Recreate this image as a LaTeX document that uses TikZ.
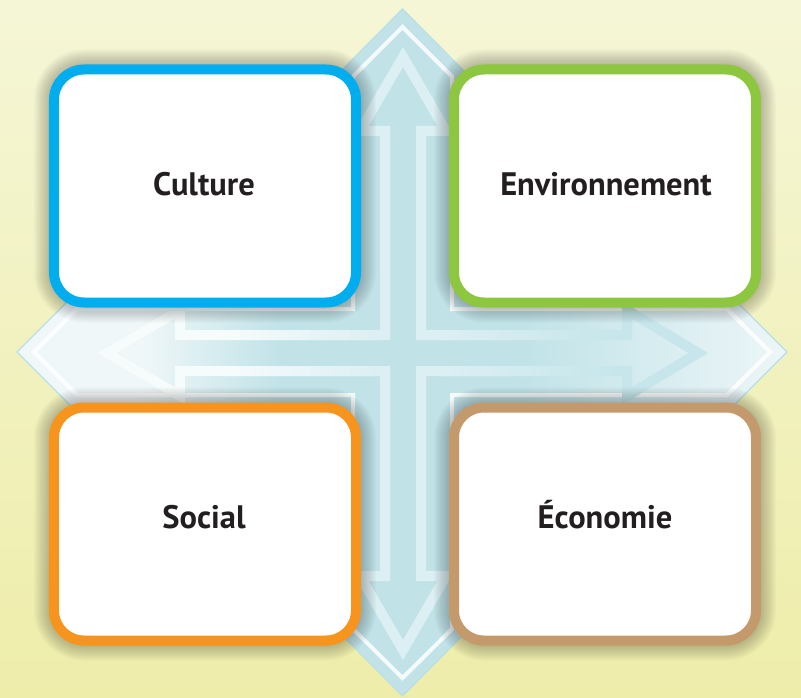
\documentclass[tikz,border=0pt]{standalone}
\usepackage{fontspec}
\setmainfont{PT Sans}
\definecolor{bgtop}{HTML}{F5F6D6}
\definecolor{bgbot}{HTML}{EEEDAA}
\definecolor{crossblue}{HTML}{C1E3E8}
\definecolor{crosspale}{HTML}{F0F7F9}
\definecolor{crossedge}{HTML}{B8DFE5}
\definecolor{arrowline}{HTML}{DCEFF3}
\definecolor{arrowpale}{HTML}{F6FBFC}
\definecolor{arrowblue}{HTML}{C6E6EB}
\definecolor{cblue}{HTML}{00AEEF}
\definecolor{cgreen}{HTML}{8DC63F}
\definecolor{corange}{HTML}{F7941D}
\definecolor{ctan}{HTML}{C49A6C}
\definecolor{txt}{HTML}{231F20}
\pgfdeclarehorizontalshading{harmshade}{100bp}{color(0bp)=(crosspale); color(33bp)=(crosspale); color(42bp)=(crossblue); color(58bp)=(crossblue); color(76bp)=(crosspale); color(100bp)=(crosspale)}
\newcommand\glowbox[4]{%
  \foreach \k in {1,...,10}{%
    \pgfmathsetmacro\glw{10+3*\k}%
    \draw[black, opacity=0.022, line width=\glw bp, rounded corners=30bp] (#1,#2) rectangle (#3,#4);}}
\newcommand\fourarrow{(403,57) -- (446,131) -- (421,131) -- (421,335) -- (627,335) -- (627,310) -- (698,353)
  -- (627,396) -- (627,371) -- (421,371) -- (421,576) -- (446,576) -- (403,650)
  -- (360,576) -- (385,576) -- (385,371) -- (180,371) -- (180,396) -- (107,353)
  -- (180,310) -- (180,335) -- (385,335) -- (385,131) -- (360,131) -- cycle}
\tikzset{
  qbox/.style={draw=#1, line width=10bp, fill=white, rounded corners=30bp,
    minimum width=302bp, minimum height=233bp, inner sep=0pt, outer sep=0pt},
  lbl/.style={font=\bfseries\fontsize{32.5bp}{36bp}\selectfont, text=txt, anchor=base, inner sep=0pt},
  arrowstroke/.style={draw=#1, line width=10bp, line join=miter}
}
\begin{document}
\begin{tikzpicture}[x=1bp,y=-1bp]
\useasboundingbox (0,0) rectangle (801,698);
% background
\shade[top color=bgtop, bottom color=bgbot] (0,0) rectangle (801,698);
% big cross with pointed ends
\fill[crossblue] (402.5,9) -- (464,71) -- (464,297) -- (732,297) -- (787,352) -- (732,407)
  -- (464,407) -- (464,634) -- (402.5,696) -- (341,634) -- (341,407) -- (72,407)
  -- (17,352) -- (72,297) -- (341,297) -- (341,71) -- cycle;
\shade[shading=harmshade]
  (17,352) -- (72,297) -- (732,297) -- (787,352) -- (732,407) -- (72,407) -- cycle;
\draw[crossedge, line width=1.2bp, line join=miter] (402.5,9) -- (464,71) -- (464,297) -- (732,297) -- (787,352) -- (732,407)
  -- (464,407) -- (464,634) -- (402.5,696) -- (341,634) -- (341,407) -- (72,407)
  -- (17,352) -- (72,297) -- (341,297) -- (341,71) -- cycle;
\draw[white, opacity=0.85, line width=4bp] (402.5,27) -- (452,76.5) -- (452,309) -- (727,309) -- (770,352) -- (727,395)
  -- (452,395) -- (452,629) -- (402.5,678) -- (353,629) -- (353,395) -- (77,395)
  -- (34,352) -- (77,309) -- (353,309) -- (353,76.5) -- cycle;
% inner outlined four-way arrow
\path[arrowstroke=arrowline] \fourarrow;
% left part: stroke fades to near white
\begin{scope}
  \clip (0,0) rectangle (230,698);
  \path[arrowstroke=arrowpale] \fourarrow;
\end{scope}
\foreach \i in {0,...,14}{%
  \pgfmathsetmacro\xa{230+10*\i}%
  \pgfmathsetmacro\pc{100-100*\i/14}%
  \begin{scope}
    \clip (\xa,290) rectangle (\xa+10.5,420);
    \path[arrowstroke=arrowpale!\pc!arrowline] \fourarrow;
  \end{scope}}
% right part: stroke turns bluish on the pale arm
\foreach \i in {0,...,17}{%
  \pgfmathsetmacro\xa{440+10*\i}%
  \pgfmathsetmacro\pc{100*\i/17}%
  \begin{scope}
    \clip (\xa,290) rectangle (\xa+10.5,420);
    \path[arrowstroke=arrowblue!\pc!arrowline] \fourarrow;
  \end{scope}}
\begin{scope}
  \clip (610,0) rectangle (801,698);
  \path[arrowstroke=arrowblue] \fourarrow;
\end{scope}
% soft shadows round the boxes
\glowbox{54}{69.5}{356}{302.5}
\glowbox{454}{69.5}{756}{302.5}
\glowbox{54}{407.5}{356}{640.5}
\glowbox{454}{407.5}{756}{640.5}
% boxes
\node[qbox=cblue] (culture) at (205,186) {};
\node[qbox=cgreen] (environnement) at (605,186) {};
\node[qbox=corange] (social) at (205,524) {};
\node[qbox=ctan] (economie) at (605,524) {};
% labels
\node[lbl] (culturet) at (204,195) {Culture};
\node[lbl] (environnementt) at (606,195) {Environnement};
\node[lbl] (socialt) at (204,528) {Social};
\node[lbl] (economiet) at (605,528) {Économie};
\end{tikzpicture}
\end{document}
